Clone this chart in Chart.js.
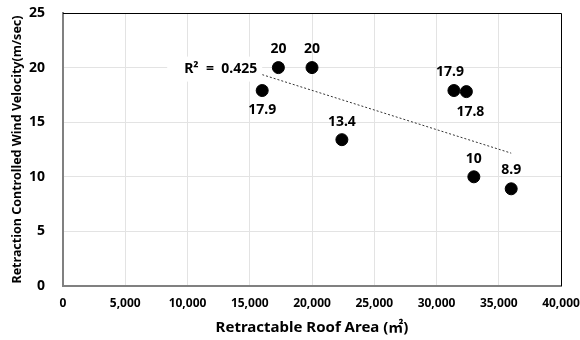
<!DOCTYPE html>
<html>
<head>
<meta charset="utf-8">
<script src="https://cdn.jsdelivr.net/npm/chart.js@4"></script>
<style>
  html, body { margin: 0; padding: 0; background: #fff; }
  #wrap { width: 580px; height: 340px; }
</style>
</head>
<body>
<div id="wrap"><canvas id="roofChart"></canvas></div>
<script>
// Datos
const roofArea = [16000, 17300, 20000, 22400, 31400, 32400, 33000, 36000];
const windVelocity = [17.9, 20, 20, 13.4, 17.9, 17.8, 10, 8.9];
const pointLabels = ['17.9', '20', '20', '13.4', '17.9', '17.8', '10', '8.9'];
const xTicks = [0, 5000, 10000, 15000, 20000, 25000, 30000, 35000, 40000];
const yTicks = [0, 5, 10, 15, 20, 25];

const FONT = "'Noto Sans', 'Noto Sans CJK KR', sans-serif";

// Regresión lineal (línea de tendencia) y R²
const n = roofArea.length;
const mx = roofArea.reduce((a, b) => a + b, 0) / n;
const my = windVelocity.reduce((a, b) => a + b, 0) / n;
let sxy = 0, sxx = 0, syy = 0;
for (let i = 0; i < n; i++) {
    sxy += (roofArea[i] - mx) * (windVelocity[i] - my);
    sxx += (roofArea[i] - mx) ** 2;
    syy += (windVelocity[i] - my) ** 2;
}
const slope = sxy / sxx;
const intercept = my - slope * mx;
const r2 = (sxy * sxy) / (sxx * syy);
const xMin = Math.min(...roofArea), xMax = Math.max(...roofArea);
const trend = [
    { x: xMin, y: intercept + slope * xMin },
    { x: xMax, y: intercept + slope * xMax }
];

// posición de cada etiqueta: [dx, dy] respecto al punto
const labelOffsets = [[0, 19], [0, -19], [0, -19], [0, -18], [-4, -19], [4, 20], [0, -18], [0, -19]];

const extras = {
    id: 'extras',
    afterDatasetsDraw(chart) {
        const { ctx, chartArea, scales } = chart;
        const meta = chart.getDatasetMeta(0);
        ctx.save();
        // borde superior y derecho
        ctx.strokeStyle = '#000';
        ctx.lineWidth = 1;
        ctx.beginPath();
        ctx.moveTo(chartArea.left, chartArea.top + 0.5);
        ctx.lineTo(chartArea.right + 0.5, chartArea.top + 0.5);
        ctx.lineTo(chartArea.right + 0.5, chartArea.bottom);
        ctx.stroke();

        // etiquetas de los puntos
        ctx.fillStyle = '#000';
        ctx.font = 'bold 14px ' + FONT;
        ctx.textAlign = 'center';
        ctx.textBaseline = 'middle';
        meta.data.forEach((pt, i) => {
            const off = labelOffsets[i];
            ctx.fillText(pointLabels[i], pt.x + off[0], pt.y + off[1]);
        });

        // R²
        const tx = scales.x.getPixelForValue(trend[0].x) - 5;
        const ty = scales.y.getPixelForValue(20) + 1;
        const txt = 'R\u00B2  =  ' + r2.toFixed(3);
        ctx.font = 'bold 14px ' + FONT;
        const w = ctx.measureText(txt).width;
        ctx.fillStyle = '#fff';
        ctx.fillRect(tx - w - 17, ty - 12, w + 22, 25);
        ctx.fillStyle = '#000';
        ctx.textAlign = 'right';
        ctx.fillText(txt, tx, ty);
        ctx.restore();
    }
};

new Chart(document.getElementById('roofChart'), {
    type: 'scatter',
    data: {
        datasets: [{
            data: roofArea.map((x, i) => ({ x: x, y: windVelocity[i] })),
            backgroundColor: '#000',
            borderColor: '#000',
            pointRadius: 6,
            pointHoverRadius: 6,
            order: 1
        }, {
            type: 'line',
            data: trend,
            borderColor: '#333',
            borderWidth: 1,
            borderDash: [2, 2],
            pointRadius: 0,
            fill: false,
            order: 2
        }]
    },
    options: {
        responsive: true,
        maintainAspectRatio: false,
        animation: false,
        layout: { padding: { top: 13, right: 19, left: 0, bottom: 0 } },
        plugins: {
            legend: { display: false },
            tooltip: { enabled: false }
        },
        scales: {
            x: {
                type: 'linear',
                min: 0,
                max: 40000,
                afterBuildTicks: (s) => { s.ticks = xTicks.map(v => ({ value: v })); },
                afterFit: (s) => { s.height = 54; s.paddingLeft = 0; s.paddingRight = 0; },
                grid: { color: '#e3e3e3', drawTicks: false },
                border: { color: '#808080', width: 2 },
                ticks: {
                    padding: 10,
                    color: '#000',
                    font: { family: FONT, size: 12, weight: 'bold' },
                    callback: (v) => v.toLocaleString('en-US')
                },
                title: {
                    display: true,
                    text: 'Retractable Roof Area (㎡)',
                    color: '#000',
                    font: { family: FONT, size: 15, weight: 'bold' },
                    padding: { top: 0, bottom: 3 }
                }
            },
            y: {
                min: 0,
                max: 25,
                afterBuildTicks: (s) => { s.ticks = yTicks.map(v => ({ value: v })); },
                afterFit: (s) => { s.width = 63; s.paddingTop = 0; s.paddingBottom = 0; },
                grid: { color: '#e3e3e3', drawTicks: false },
                border: { color: '#808080', width: 2 },
                ticks: {
                    padding: 18,
                    color: '#000',
                    font: { family: FONT, size: 14, weight: 'bold' }
                },
                title: {
                    display: true,
                    text: 'Retraction Controlled Wind Velocity(m/sec)',
                    color: '#000',
                    font: { family: FONT, size: 12.5, weight: 'bold' },
                    padding: { top: 10, bottom: 0 }
                }
            }
        }
    },
    plugins: [extras]
});
</script>
</body>
</html>
